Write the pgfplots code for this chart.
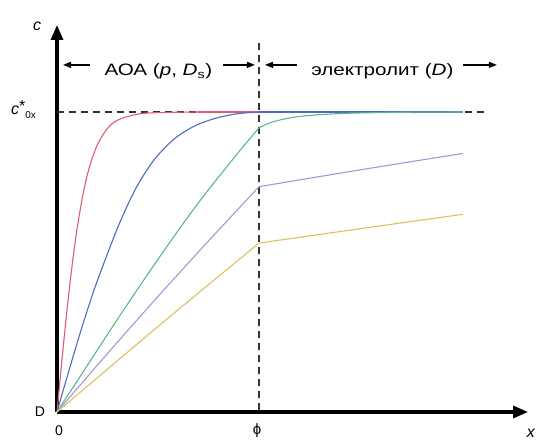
\documentclass[border=0pt]{standalone}
\usepackage{fontspec}
\setmainfont{Liberation Sans}
\newfontfamily\hdr[FakeStretch=1.25]{Liberation Sans}
\usepackage{pgfplots}
\pgfplotsset{compat=1.18}
\usetikzlibrary{arrows.meta}
\definecolor{cred}{RGB}{224,92,112}
\definecolor{cblue}{RGB}{78,108,198}
\definecolor{cgreen}{RGB}{92,182,148}
\definecolor{cpurple}{RGB}{172,148,214}
\definecolor{cyellow}{RGB}{222,192,96}
\begin{document}
\begin{tikzpicture}
\useasboundingbox (-57bp,-30bp) rectangle (479bp,412bp);
\begin{axis}[
  scale only axis, width=471bp, height=387bp,
  xmin=0, xmax=2.332, ymin=0, ymax=1.29,
  axis lines=left, ticks=none, clip=false,
  axis line style={line width=3.2bp, -{Triangle[length=15bp,width=12bp]}},
  every axis plot/.append style={line width=1.1bp, no markers, smooth},
]
% reference dashed lines
\draw[line width=1.4bp, dash pattern=on 7bp off 5bp, black!80] (axis cs:0,1) -- (axis cs:2.12,1);
\draw[line width=1.4bp, dash pattern=on 7bp off 5bp, black!80] (axis cs:1,1.23) -- (axis cs:1,0);
% curves
\addplot[cred] coordinates {(0,0) (0.02,0.142) (0.04,0.278) (0.06,0.404) (0.08,0.516) (0.10,0.613) (0.13,0.730) (0.16,0.815) (0.20,0.891) (0.25,0.945) (0.30,0.973) (0.40,0.993) (0.50,0.998) (0.7,1.0)};
\addplot[cred] coordinates {(0.7,1.0) (2.01,1.0)};
\addplot[cblue] coordinates {(0,0) (0.06,0.14) (0.12,0.275) (0.18,0.40) (0.24,0.51) (0.31,0.63) (0.39,0.745) (0.48,0.84) (0.58,0.91) (0.68,0.953) (0.78,0.978) (0.89,0.994) (1.0,1.0)};
\addplot[cblue] coordinates {(1.0,1.0) (2.01,1.0)};
\addplot[cgreen] coordinates {(0,0) (0.15,0.155) (0.3,0.31) (0.45,0.46) (0.6,0.605) (0.72,0.715) (0.82,0.80) (0.91,0.875) (1.0,0.947)};
\addplot[cgreen] coordinates {(1.0,0.947) (1.05,0.963) (1.12,0.976) (1.2,0.985) (1.3,0.991) (1.45,0.996) (1.7,0.999) (2.01,1.0)};
\addplot[cpurple] coordinates {(0,0) (0.25,0.195) (0.5,0.385) (0.75,0.57) (1.0,0.751)};
\addplot[cpurple] coordinates {(1.0,0.751) (1.5,0.807) (2.01,0.862)};
\addplot[cyellow] coordinates {(0,0) (0.5,0.285) (1.0,0.563)};
\addplot[cyellow] coordinates {(1.0,0.563) (1.5,0.611) (2.01,0.659)};
% header
\draw[line width=1.3bp, -{Triangle[length=8bp,width=6bp]}] (axis cs:0.163,1.157) -- (axis cs:0.03,1.157);
\draw[line width=1.3bp, -{Triangle[length=8bp,width=6bp]}] (axis cs:0.822,1.157) -- (axis cs:0.980,1.157);
\draw[line width=1.3bp, -{Triangle[length=8bp,width=6bp]}] (axis cs:1.188,1.157) -- (axis cs:1.030,1.157);
\draw[line width=1.3bp, -{Triangle[length=8bp,width=6bp]}] (axis cs:2.01,1.157) -- (axis cs:2.178,1.157);
\node[anchor=base, inner sep=0pt] at (axis cs:0.502,1.12) {\hdr\fontsize{16.5bp}{18bp}\selectfont АОА (\textit{p}, \textit{D}\textsubscript{s})};
\node[anchor=base, inner sep=0pt] at (axis cs:1.611,1.12) {\hdr\fontsize{16.5bp}{18bp}\selectfont электролит (\textit{D})};
% labels
\node[anchor=base, inner sep=0pt] at (axis cs:-0.099,1.273) {\fontsize{16bp}{18bp}\selectfont\textit{c}};
\node[anchor=base west, inner sep=0pt] at (axis cs:-0.228,0.99) {\fontsize{16bp}{18bp}\selectfont\textit{c}\raisebox{3bp}{*}\raisebox{-4bp}{\fontsize{10bp}{11bp}\selectfont 0x}};
\node[inner sep=0pt] at (axis cs:-0.084,0) {\fontsize{14bp}{16bp}\selectfont D};
\node[inner sep=0pt] at (axis cs:0.01,-0.062) {\fontsize{14bp}{16bp}\selectfont 0};
\node[inner sep=0pt] at (axis cs:0.99,-0.063) {\fontsize{15bp}{16bp}\selectfont ϕ};
\node[inner sep=0pt] at (axis cs:2.347,-0.07) {\fontsize{16bp}{18bp}\selectfont\textit{x}};
\end{axis}
\end{tikzpicture}
\end{document}
